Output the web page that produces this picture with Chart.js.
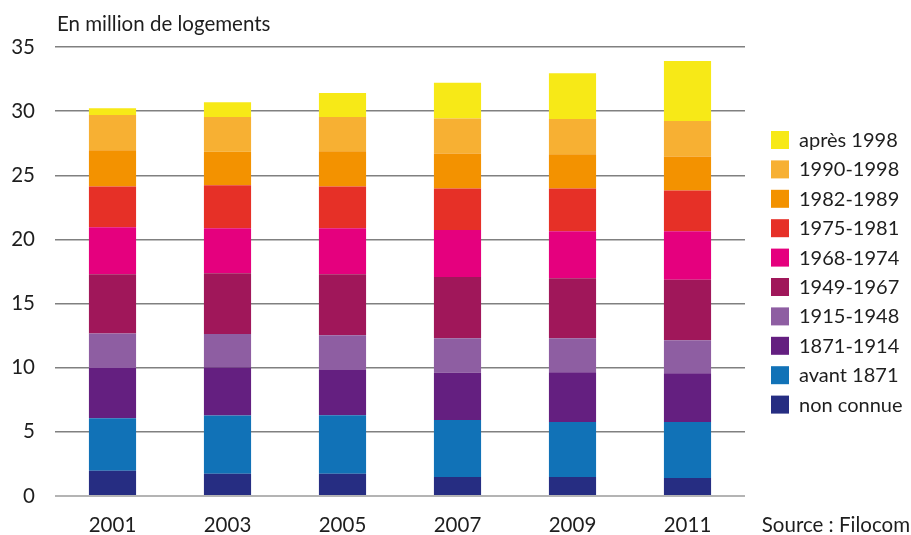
<!DOCTYPE html>
<html lang="fr">
<head>
<meta charset="utf-8">
<title>Logements par période de construction</title>
<script src="https://cdn.jsdelivr.net/npm/chart.js@4"></script>
<style>
    html, body { margin: 0; padding: 0; background: #ffffff; }
    #wrap { position: relative; width: 911px; height: 535px; }
</style>
</head>
<body>
<div id="wrap"><canvas id="stockChart" width="911" height="535"></canvas></div>
<script>
// Years on the x axis
const years = ["2001", "2003", "2005", "2007", "2009", "2011"];

// Million dwellings per construction period (bottom of stack first)
const nonConnue  = [1.96, 1.73, 1.73, 1.49, 1.49, 1.41];
const avant1871  = [4.11, 4.54, 4.56, 4.43, 4.28, 4.36];
const p1871_1914 = [3.90, 3.75, 3.53, 3.68, 3.88, 3.80];
const p1915_1948 = [2.70, 2.60, 2.72, 2.70, 2.65, 2.57];
const p1949_1967 = [4.62, 4.75, 4.75, 4.78, 4.67, 4.72];
const p1968_1974 = [3.66, 3.50, 3.58, 3.66, 3.66, 3.77];
const p1975_1981 = [3.18, 3.36, 3.26, 3.23, 3.34, 3.18];
const p1982_1989 = [2.82, 2.61, 2.74, 2.72, 2.67, 2.65];
const p1990_1998 = [2.75, 2.71, 2.68, 2.73, 2.75, 2.78];
const apres1998  = [0.52, 1.14, 1.86, 2.79, 3.56, 4.67];

const FONT = "Lato, 'Open Sans', sans-serif";
const TEXT = "#1e1e1e";

function serie(label, data, color) {
    return {
        label: label,
        data: data,
        backgroundColor: color,
        borderWidth: 0,
        barPercentage: 0.41,
        categoryPercentage: 1
    };
}

// Title, source and the legend on the right
const decorations = {
    id: "decorations",
    afterDraw(chart) {
        const c = chart.ctx;
        c.save();
        c.fillStyle = TEXT;
        c.font = "20.5px " + FONT;
        c.textBaseline = "middle";
        c.textAlign = "left";
        c.fillText("En million de logements", 57, 24);

        c.textAlign = "right";
        c.fillText("Source : Filocom", 910, 525);

        c.font = "20px " + FONT;
        c.textAlign = "left";
        const sets = chart.data.datasets.slice().reverse();
        sets.forEach((ds, i) => {
            const y = 131 + i * 29.4;
            c.fillStyle = ds.backgroundColor;
            c.fillRect(771, y, 18, 18);
            c.fillStyle = TEXT;
            c.fillText(ds.label, 799, y + 9.5);
        });
        c.restore();
    }
};

document.addEventListener("DOMContentLoaded", function () {
    const ctx = document.getElementById("stockChart").getContext("2d");

    new Chart(ctx, {
        type: "bar",
        data: {
            labels: years,
            datasets: [
                serie("non connue", nonConnue, "#262d82"),
                serie("avant 1871", avant1871, "#1172b7"),
                serie("1871-1914", p1871_1914, "#641f80"),
                serie("1915-1948", p1915_1948, "#8e5ea2"),
                serie("1949-1967", p1949_1967, "#a0175a"),
                serie("1968-1974", p1968_1974, "#e5007e"),
                serie("1975-1981", p1975_1981, "#e63027"),
                serie("1982-1989", p1982_1989, "#f39200"),
                serie("1990-1998", p1990_1998, "#f7b033"),
                serie("après 1998", apres1998, "#f7e917")
            ]
        },
        options: {
            responsive: false,
            animation: false,
            layout: { padding: { top: 47, right: 166, bottom: 0, left: 0 } },
            plugins: {
                legend: { display: false },
                tooltip: { enabled: false }
            },
            scales: {
                x: {
                    stacked: true,
                    grid: { display: false },
                    border: { display: false },
                    ticks: { color: TEXT, font: { family: FONT, size: 20.5 }, padding: 9 },
                    afterFit: scale => { scale.height = 39; }
                },
                y: {
                    stacked: true,
                    min: 0,
                    max: 35,
                    border: { display: false },
                    grid: {
                        drawTicks: false,
                        color: c => c.tick && c.tick.value === 0 ? "#b4b4b4" : "#808080",
                        lineWidth: c => c.tick && c.tick.value === 0 ? 2 : 1.5
                    },
                    ticks: {
                        stepSize: 5,
                        color: TEXT,
                        padding: 20,
                        font: { family: FONT, size: 20.5 }
                    },
                    afterFit: scale => { scale.width = 55; }
                }
            }
        },
        plugins: [decorations]
    });
});
</script>
</body>
</html>
